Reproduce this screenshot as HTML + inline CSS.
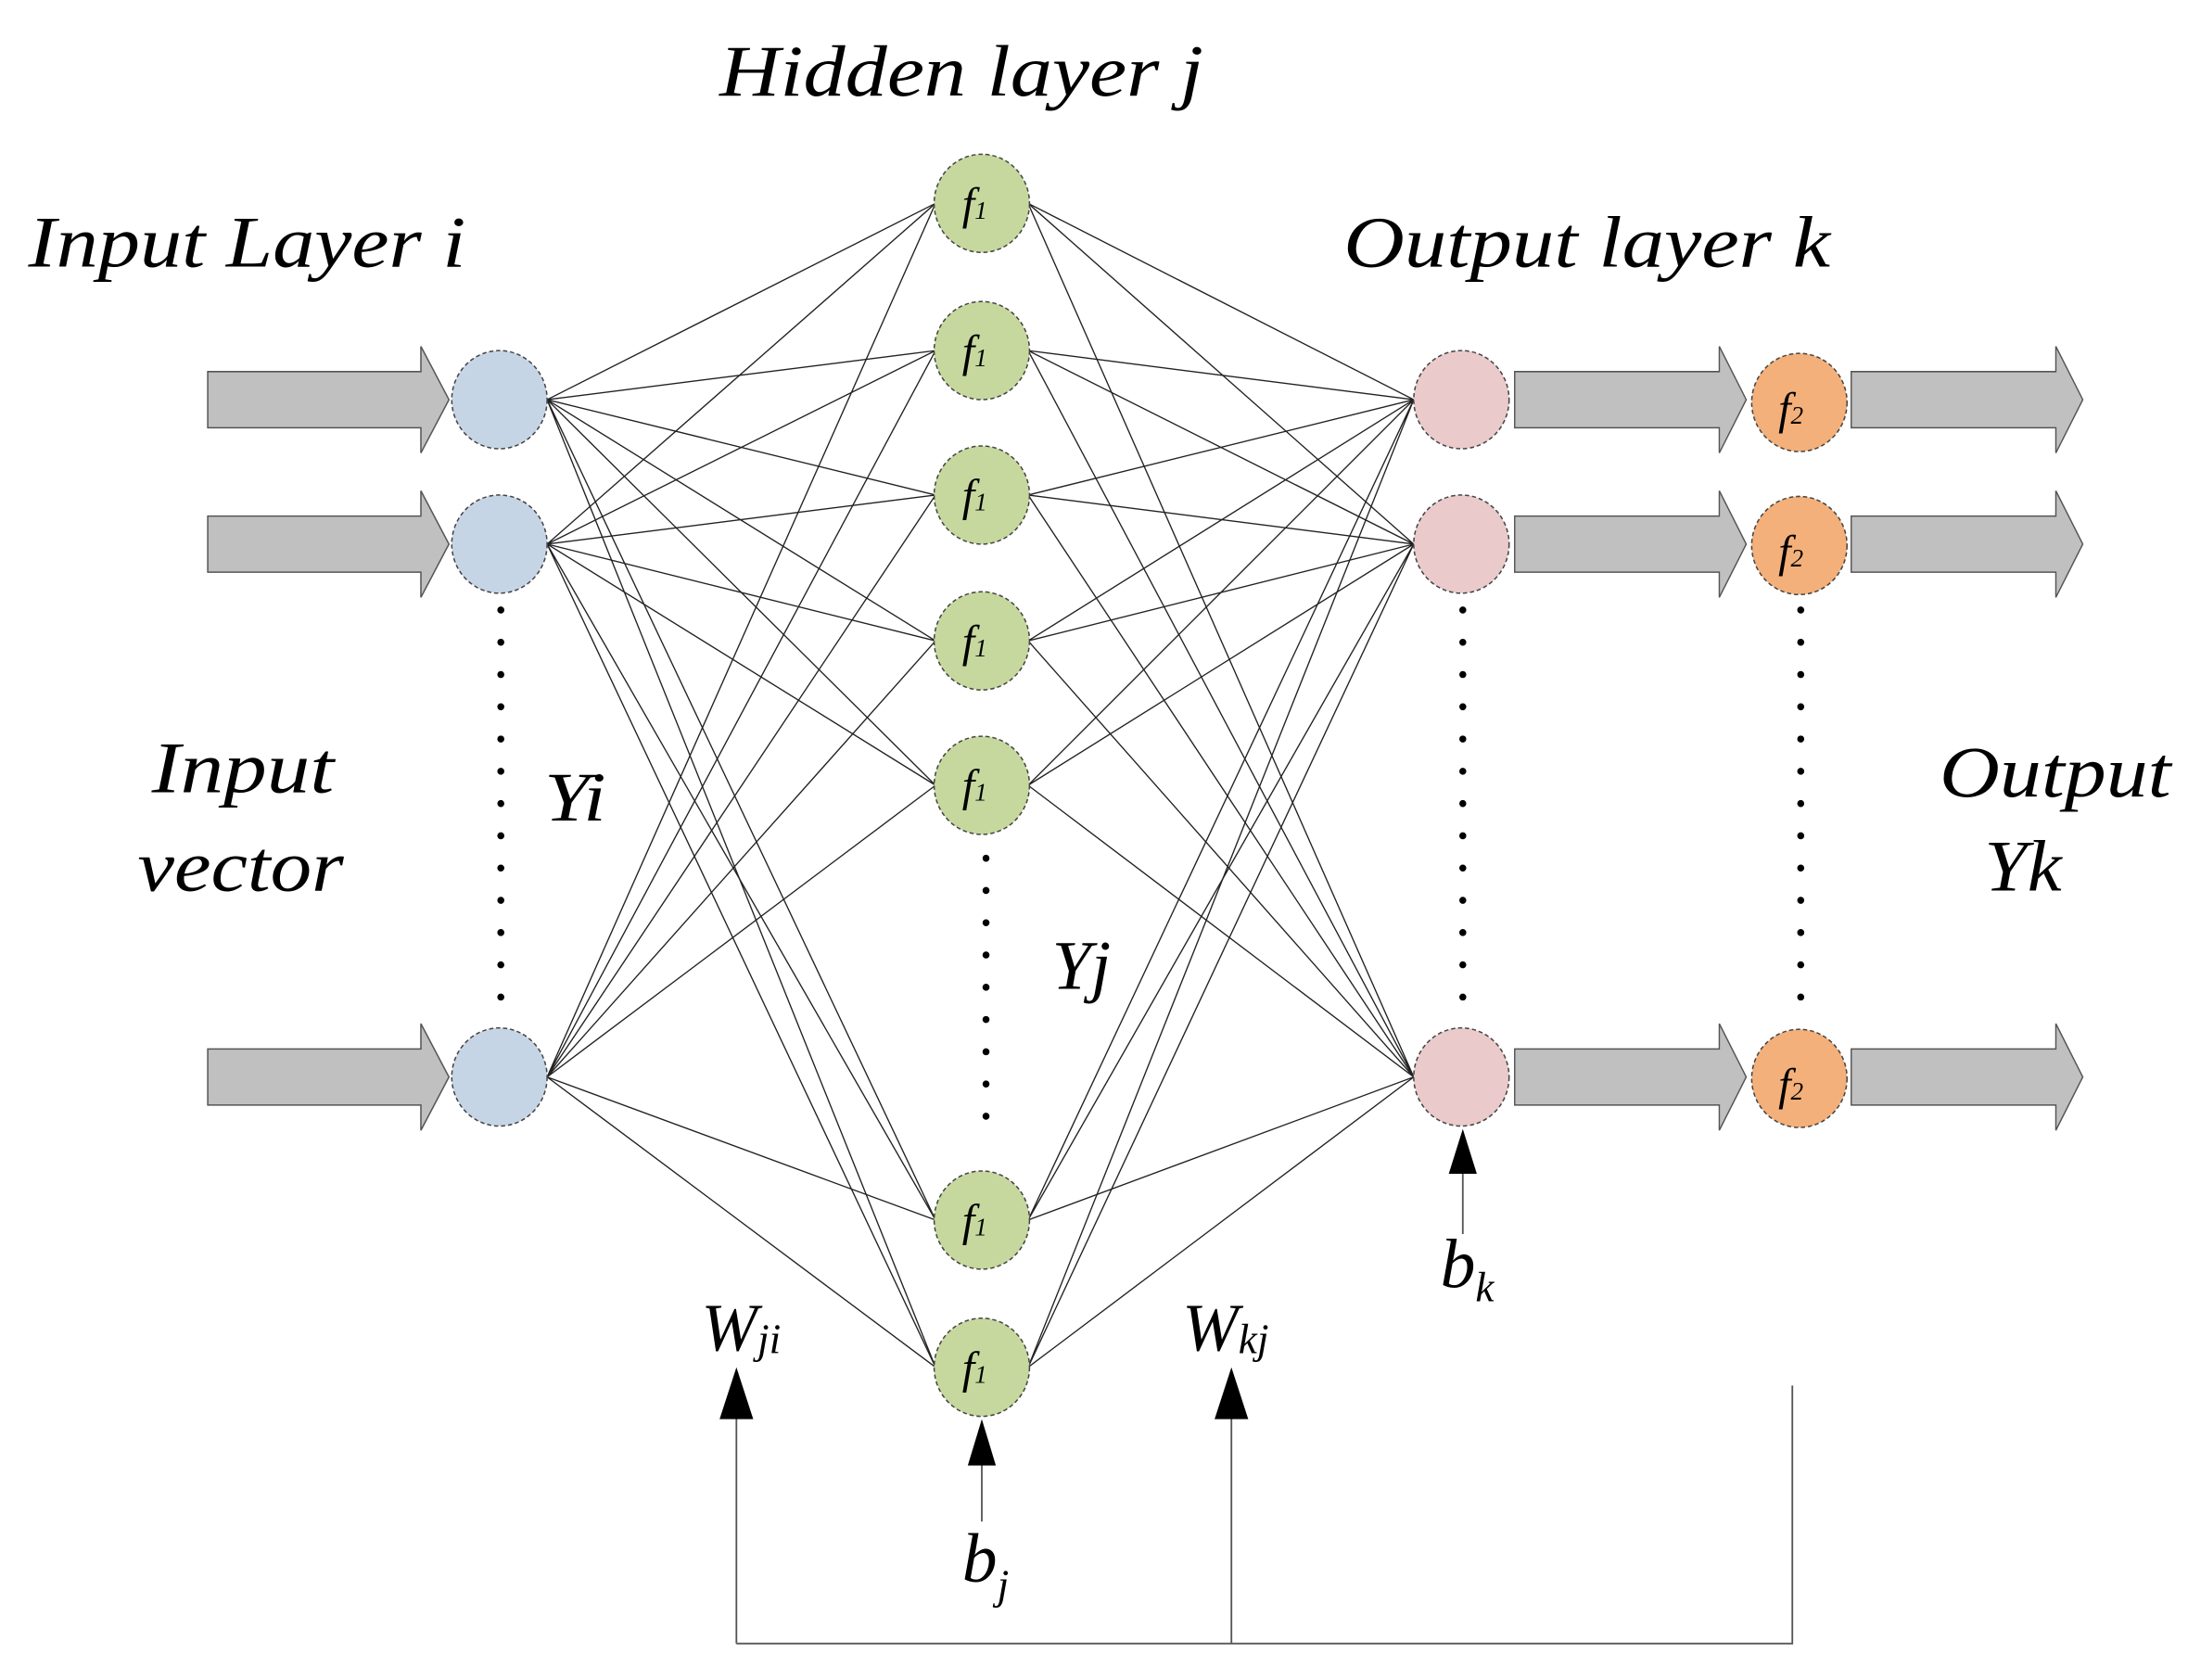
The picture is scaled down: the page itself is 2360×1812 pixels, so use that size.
<!DOCTYPE html>
<html><head><meta charset="utf-8"><style>
html,body{margin:0;padding:0;background:#fff;}
svg{display:block;}
text{font-family:"Liberation Serif",serif;font-style:italic;fill:#000;}
</style></head><body>
<svg width="2360" height="1812" viewBox="0 0 1560 1198" xmlns="http://www.w3.org/2000/svg">
<defs>
<g id="barrow"><path d="M0,-20 L152,-20 L152,-38 L172,0 L152,38 L152,20 L0,20 Z" fill="#c0c0c0" stroke="#555" stroke-width="1"/></g>
</defs>
<text x="513" y="68" font-size="52" textLength="345" lengthAdjust="spacingAndGlyphs">Hidden layer j</text>
<text x="20" y="190" font-size="52" textLength="312" lengthAdjust="spacingAndGlyphs">Input Layer i</text>
<text x="958" y="190" font-size="52" textLength="347" lengthAdjust="spacingAndGlyphs">Output layer k</text>
<text x="108" y="565" font-size="52" textLength="130" lengthAdjust="spacingAndGlyphs">Input</text>
<text x="98" y="635" font-size="52" textLength="147" lengthAdjust="spacingAndGlyphs">vector</text>
<text x="388" y="585" font-size="50" textLength="44" lengthAdjust="spacingAndGlyphs">Yi</text>
<text x="750" y="705" font-size="50" textLength="42" lengthAdjust="spacingAndGlyphs">Yj</text>
<text x="1383" y="568" font-size="52" textLength="165" lengthAdjust="spacingAndGlyphs">Output</text>
<text x="1415" y="635" font-size="52" textLength="55" lengthAdjust="spacingAndGlyphs">Yk</text>
<text x="1027" y="918" font-size="50">b<tspan font-size="30" dy="10">k</tspan></text>
<text x="686" y="1128" font-size="50">b<tspan font-size="30" dy="12">j</tspan></text>
<text x="500" y="963" font-size="48">W<tspan font-size="30" dy="2">ji</tspan></text>
<text x="843" y="963" font-size="48">W<tspan font-size="30" dy="2">kj</tspan></text>

<use href="#barrow" x="148" y="285"/>
<use href="#barrow" x="148" y="388"/>
<use href="#barrow" x="148" y="768"/>
<g transform="translate(1080,285) scale(0.96,1)"><use href="#barrow"/></g>
<g transform="translate(1080,388) scale(0.96,1)"><use href="#barrow"/></g>
<g transform="translate(1080,768) scale(0.96,1)"><use href="#barrow"/></g>
<g transform="translate(1320,285) scale(0.96,1)"><use href="#barrow"/></g>
<g transform="translate(1320,388) scale(0.96,1)"><use href="#barrow"/></g>
<g transform="translate(1320,768) scale(0.96,1)"><use href="#barrow"/></g>

<g stroke="#222" stroke-width="0.9" fill="none">
<path d="M390,285L667,145M390,285L667,250M390,285L667,353M390,285L667,457M390,285L667,560M390,285L667,870M390,285L667,975"/>
<path d="M390,388L667,145M390,388L667,250M390,388L667,353M390,388L667,457M390,388L667,560M390,388L667,870M390,388L667,975"/>
<path d="M390,768L667,145M390,768L667,250M390,768L667,353M390,768L667,457M390,768L667,560M390,768L667,870M390,768L667,975"/>
<path d="M733,145L1008,285M733,250L1008,285M733,353L1008,285M733,457L1008,285M733,560L1008,285M733,870L1008,285M733,975L1008,285"/>
<path d="M733,145L1008,388M733,250L1008,388M733,353L1008,388M733,457L1008,388M733,560L1008,388M733,870L1008,388M733,975L1008,388"/>
<path d="M733,145L1008,768M733,250L1008,768M733,353L1008,768M733,457L1008,768M733,560L1008,768M733,870L1008,768M733,975L1008,768"/>
</g>

<g stroke="#000" stroke-width="5" stroke-linecap="round" stroke-dasharray="0 23" fill="none">
<path d="M357,435L357,712"/>
<path d="M703,612L703,815"/>
<path d="M1043,435L1043,715"/>
<path d="M1284,435L1284,712"/>
</g>

<g stroke="#444" stroke-width="1" stroke-dasharray="3 2">
<ellipse cx="356" cy="285" rx="34" ry="35" fill="#c6d5e6"/>
<ellipse cx="356" cy="388" rx="34" ry="35" fill="#c6d5e6"/>
<ellipse cx="356" cy="768" rx="34" ry="35" fill="#c6d5e6"/>
<ellipse cx="700" cy="145" rx="34" ry="35" fill="#c6d89e"/>
<ellipse cx="700" cy="250" rx="34" ry="35" fill="#c6d89e"/>
<ellipse cx="700" cy="353" rx="34" ry="35" fill="#c6d89e"/>
<ellipse cx="700" cy="457" rx="34" ry="35" fill="#c6d89e"/>
<ellipse cx="700" cy="560" rx="34" ry="35" fill="#c6d89e"/>
<ellipse cx="700" cy="870" rx="34" ry="35" fill="#c6d89e"/>
<ellipse cx="700" cy="975" rx="34" ry="35" fill="#c6d89e"/>
<ellipse cx="1042" cy="285" rx="34" ry="35" fill="#eacaca"/>
<ellipse cx="1042" cy="388" rx="34" ry="35" fill="#eacaca"/>
<ellipse cx="1042" cy="768" rx="34" ry="35" fill="#eacaca"/>
<ellipse cx="1283" cy="287" rx="34" ry="35" fill="#f4b07a"/>
<ellipse cx="1283" cy="389" rx="34" ry="35" fill="#f4b07a"/>
<ellipse cx="1283" cy="769" rx="34" ry="35" fill="#f4b07a"/>
</g>
<g font-size="32">
<text x="686" y="156">f<tspan font-size="18">1</tspan></text>
<text x="686" y="261">f<tspan font-size="18">1</tspan></text>
<text x="686" y="364">f<tspan font-size="18">1</tspan></text>
<text x="686" y="468">f<tspan font-size="18">1</tspan></text>
<text x="686" y="571">f<tspan font-size="18">1</tspan></text>
<text x="686" y="881">f<tspan font-size="18">1</tspan></text>
<text x="686" y="986">f<tspan font-size="18">1</tspan></text>
<text x="1268" y="302">f<tspan font-size="18">2</tspan></text>
<text x="1268" y="404">f<tspan font-size="18">2</tspan></text>
<text x="1268" y="784">f<tspan font-size="18">2</tspan></text>
</g>

<g stroke="#555" stroke-width="1.2" fill="none">
<path d="M1043,880L1043,830"/>
<path d="M700,1085L700,1040"/>
<path d="M525,1172L525,1010"/>
<path d="M878,1172L878,1010"/>
<path d="M1278,988L1278,1172L525,1172"/>
</g>
<g fill="#000">
<path d="M1043,805L1053,837L1033,837Z"/>
<path d="M700,1012L710,1045L690,1045Z"/>
<path d="M525,975L537,1012L513,1012Z"/>
<path d="M878,975L890,1012L866,1012Z"/>
</g>
</svg>
</body></html>
